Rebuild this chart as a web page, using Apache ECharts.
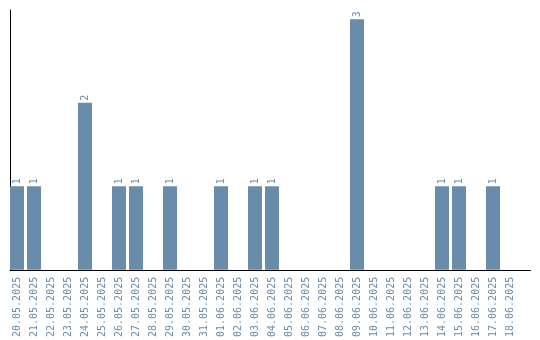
<!DOCTYPE html>
<html><head><meta charset="utf-8">
<script src="https://cdn.jsdelivr.net/npm/echarts@6/dist/echarts.min.js"></script>
<style>html,body{margin:0;padding:0;background:#fff}#c{width:540px;height:340px}</style>
</head><body><div id="c"></div>
<script>
var categories = ['20.05.2025','21.05.2025','22.05.2025','23.05.2025','24.05.2025','25.05.2025','26.05.2025','27.05.2025','28.05.2025','29.05.2025','30.05.2025','31.05.2025','01.06.2025','02.06.2025','03.06.2025','04.06.2025','05.06.2025','06.06.2025','07.06.2025','08.06.2025','09.06.2025','10.06.2025','11.06.2025','12.06.2025','13.06.2025','14.06.2025','15.06.2025','16.06.2025','17.06.2025','18.06.2025'];
var counts = [1,1,0,0,2,0,1,1,0,1,0,0,1,0,1,1,0,0,0,0,3,0,0,0,0,1,1,0,1,0];

var color = '#6a8cab';
var chart = echarts.init(document.getElementById('c'));
chart.setOption({
  animation: false,
  grid: [
    {left: 8.5, top: 10, width: 510, bottom: 70},
    {left: 10, top: 10, right: 9.5, bottom: 70}
  ],
  xAxis: [
    {type: 'category', gridIndex: 0, data: categories,
     axisLine: {show: false}, axisTick: {show: false},
     axisLabel: {rotate: 90, interval: 0, margin: 7, color: color,
                 fontFamily: 'DejaVu Sans Mono', fontSize: 10}},
    {type: 'value', gridIndex: 1, min: 0, max: 1,
     axisLine: {show: true, lineStyle: {color: '#000', width: 1}},
     axisTick: {show: false}, axisLabel: {show: false}, splitLine: {show: false}}
  ],
  yAxis: [
    {type: 'value', gridIndex: 0, min: 0, max: 3.11,
     axisLine: {show: false}, axisTick: {show: false},
     axisLabel: {show: false}, splitLine: {show: false}},
    {type: 'value', gridIndex: 1, min: 0, max: 1,
     axisLine: {show: true, lineStyle: {color: '#000', width: 1}},
     axisTick: {show: false}, axisLabel: {show: false}, splitLine: {show: false}}
  ],
  series: [{
    type: 'bar', xAxisIndex: 0, yAxisIndex: 0,
    data: counts.map(function(v){ return v === 0 ? {value: 0, label: {show: false}} : v; }),
    barWidth: 14,
    itemStyle: {color: color},
    label: {show: true, position: 'top', rotate: 90, align: 'left', verticalAlign: 'middle',
            distance: 2, color: color, fontFamily: 'DejaVu Sans Mono', fontSize: 10}
  }]
});
</script></body></html>
